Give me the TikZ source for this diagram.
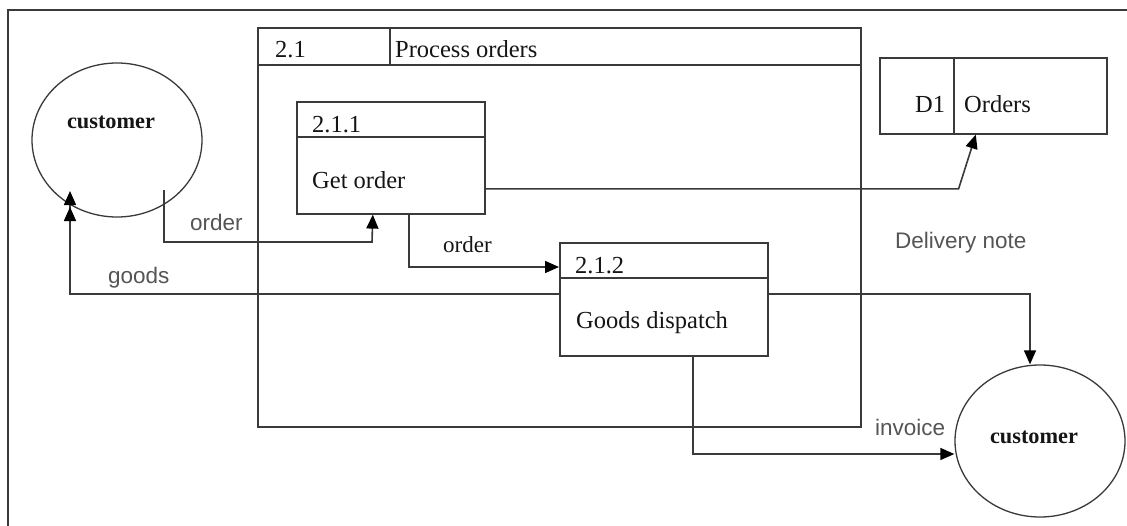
\documentclass[tikz,border=0pt]{standalone}
\usepackage{fontspec}
\setmainfont{Liberation Serif}
\newfontfamily\lsans{Liberation Sans}
\usetikzlibrary{arrows.meta,shapes.geometric}

\definecolor{ink}{HTML}{3A3A3A}
\definecolor{txt}{HTML}{151515}
\definecolor{lbl}{HTML}{555555}

\tikzset{
  frameline/.style={draw=ink, line width=1.6pt},
  procbox/.style={draw=ink, line width=1.6pt, rectangle, anchor=north west, inner sep=0pt},
  entity/.style={draw=ink, line width=1.3pt, ellipse, inner sep=0pt},
  flow/.style={draw=ink, line width=1.6pt, -{Triangle[length=14pt,width=12pt,color=black]}},
  plainflow/.style={draw=ink, line width=1.6pt},
  boxtext/.style={anchor=base west, inner sep=0pt, text=txt,
    font=\fontsize{24.5pt}{28pt}\selectfont},
  enttext/.style={anchor=base, inner sep=0pt, text=txt,
    font=\fontsize{22.3pt}{26pt}\selectfont\bfseries},
  flowlabel/.style={anchor=base west, inner sep=0pt, text=lbl,
    font=\fontsize{22.5pt}{26pt}\selectfont\lsans},
}

\begin{document}
\begin{tikzpicture}[x=1pt,y=-1pt]
\useasboundingbox (0,0) rectangle (1127,525);
\fill[white] (0,0) rectangle (1127,525);

% outer frame (top and left edges)
\draw[frameline] (8,526) -- (8,10) -- (1128,10);

% external entities
\node[entity, minimum width=170pt, minimum height=154pt] (cust1) at (117,140) {};
\node[enttext] (cust1txt) at (111,128) {customer};
\node[entity, minimum width=170pt, minimum height=152pt] (cust2) at (1040,441) {};
\node[enttext] (cust2txt) at (1034,443) {customer};

% process 2.1
\node[procbox, minimum width=603pt, minimum height=399pt] (p21) at (257,27) {};
\draw[plainflow] ([yshift=-38pt]p21.north west) -- ([yshift=-38pt]p21.north east);
\draw[plainflow] ([xshift=133pt]p21.north west) -- ++(0,38);
\node[boxtext] (p21id) at (275,57) {2.1};
\node[boxtext] (p21name) at (395,57) {Process orders};

% process 2.1.1
\node[procbox, minimum width=188pt, minimum height=112pt] (p211) at (296,101) {};
\draw[plainflow] ([yshift=-36pt]p211.north west) -- ([yshift=-36pt]p211.north east);
\node[boxtext] (p211id) at (312,132) {2.1.1};
\node[boxtext] (p211name) at (312,188) {Get order};

% process 2.1.2
\node[procbox, minimum width=208pt, minimum height=113pt] (p212) at (559,242) {};
\draw[plainflow] ([yshift=-36pt]p212.north west) -- ([yshift=-36pt]p212.north east);
\node[boxtext] (p212id) at (575,273) {2.1.2};
\node[boxtext] (p212name) at (576,328) {Goods dispatch};

% data store D1
\node[procbox, minimum width=227pt, minimum height=76pt] (d1) at (879,57) {};
\draw[plainflow] ([xshift=75pt]d1.north west) -- ([xshift=75pt]d1.south west);
\node[boxtext] (d1id) at (915,112) {D1};
\node[boxtext] (d1name) at (964,112) {Orders};

% data flows
\draw[flow] ([shift={(47,50)}]cust1.center) |- (372,242) -- ([xshift=-18pt]p211.south);
\node[flowlabel] (lorder1) at (190,230) {order};

\draw[flow] ([xshift=18pt]p211.south) |- ([yshift=-25pt]p212.north west);
\node[boxtext, font=\fontsize{23pt}{26pt}\selectfont] (lorder2) at (443,252) {order};

\draw[flow] ([yshift=-31pt]p211.east) -- ++(473,0) -- ([xshift=-17.5pt]d1.south);

% goods flow ends in a doubled arrowhead
\coordinate (goodsend) at ([shift={(-47,51)}]cust1.center);
\draw[flow] ([yshift=5.5pt]p212.west) -| (goodsend);
\draw[flow] ([yshift=-45pt]goodsend) -- ([yshift=-16pt]goodsend);
\node[flowlabel] (lgoods) at (108,283) {goods};

\draw[flow] ([yshift=5.5pt]p212.east) -| ([xshift=-10pt]cust2.north);
\node[flowlabel] (ldelivery) at (895,248) {Delivery note};

\draw[flow] ([xshift=29pt]p212.south) |- ([yshift=-13pt]cust2.west);
\node[flowlabel] (linvoice) at (875,435) {invoice};
\end{tikzpicture}
\end{document}
